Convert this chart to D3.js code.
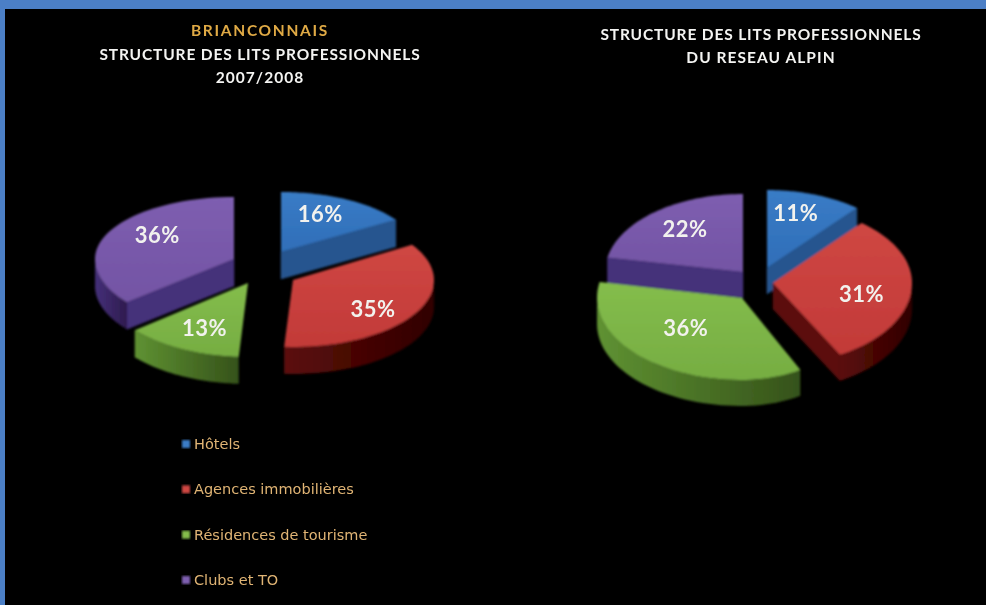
<!DOCTYPE html>
<html><head><meta charset="utf-8">
<script src="https://cdn.jsdelivr.net/npm/d3@7"></script>
<style>html,body{margin:0;padding:0;background:#000;overflow:hidden}svg{display:block}
text{font-family:Lato,"Open Sans",sans-serif}</style></head><body>
<svg id="c" width="986" height="605"></svg>
<script>
const categories = ["Hôtels","Agences immobilières","Résidences de tourisme","Clubs et TO"];
const briançonnaisValues = [16,35,13,36];
const reseauAlpinValues = [11,31,36,22];
const leftTitles = ["BRIANCONNAIS","STRUCTURE DES LITS PROFESSIONNELS","2007/2008"];
const rightTitles = ["STRUCTURE DES LITS PROFESSIONNELS","DU RESEAU ALPIN"];
const topColors  = ["#2f6eb8","#c23a38","#76ad42","#7354a4"];
const topLight   = ["#3a7cc6","#cf4743","#84bd4c","#7e5eb0"];
const wallColors = ["#26558f","#5c0c0a","#5f9232","#45307a"];
const wallDark   = ["#1d3f6e","#300000","#35521a","#2e1b4e"];

const svg = d3.select("#c");
const defs = svg.append("defs");
defs.append("filter").attr("id","soft").attr("x","-5%").attr("y","-5%").attr("width","110%").attr("height","110%")
  .append("feGaussianBlur").attr("stdDeviation",0.8);
defs.append("filter").attr("id","softText").attr("x","-5%").attr("y","-20%").attr("width","110%").attr("height","140%")
  .append("feGaussianBlur").attr("stdDeviation",0.55);
categories.forEach((c,i)=>{
  const t=defs.append("linearGradient").attr("id","top"+i).attr("x1",0).attr("y1",0).attr("x2",0).attr("y2",1);
  t.append("stop").attr("offset",0).attr("stop-color",topLight[i]);
  t.append("stop").attr("offset",1).attr("stop-color",topColors[i]);
  const w=defs.append("linearGradient").attr("id","wall"+i).attr("x1",0).attr("y1",0).attr("x2",1).attr("y2",0);
  w.append("stop").attr("offset",0).attr("stop-color",wallColors[i]);
  w.append("stop").attr("offset",1).attr("stop-color",wallDark[i]);
});

// frame
svg.append("rect").attr("width",986).attr("height",9).attr("fill","#4b7fc6");
svg.append("rect").attr("width",5).attr("height",605).attr("fill","#4b7fc6");

const pieGen = d3.pie().sort(null).value(d=>d).startAngle(0).endAngle(2*Math.PI);

const leftLayout = {
  rx:[136,141,147,139], rxRight:[136,141,147,139], ryTop:[60,66,62,62], ryBottom:[70,67,74,68], depth:27,
  apex:[[281,252],[293,280],[248,283],[234,259]],
  lab:[[.6,.73],[.66,.85],[.65,.68],[.61,.94]]
};
const rightLayout = {
  rx:[141,139,145,138], rxRight:[141,139,121,138], ryTop:[78,78,85,78], ryBottom:[78,82,82,78], depth:26,
  apex:[[767,268],[773,283],[742,298],[743,272]],
  lab:[[.6,.75],[.64,1.4],[.66,.45],[.66,.73]]
};

function drawPie(values, L){
  const g = svg.append("g").attr("filter","url(#soft)");
  const arcs = pieGen(values);
  const order = d3.range(values.length).sort((a,b)=>{
    const m=i=>(arcs[i].startAngle+arcs[i].endAngle)/2;
    return Math.cos(m(b))-Math.cos(m(a));
  });
  const line = d3.line();
  order.forEach(i=>{
    const a=arcs[i], [cx,cy]=L.apex[i];
    const px=t=>{const s=Math.sin(t);return cx+(s>0?L.rxRight[i]:L.rx[i])*s;};
    const py=t=>{const c=Math.cos(t);return cy-(c>0?L.ryTop[i]:L.ryBottom[i])*c;};
    const samp=(t0,t1)=>d3.range(0,1.0001,1/48).map(u=>{const t=t0+(t1-t0)*u;return [px(t),py(t)];});
    // radial cut faces
    [[a.startAngle,Math.sin(a.startAngle)<-0.1],[a.endAngle,Math.sin(a.endAngle)>0.1]].forEach(([t,vis])=>{
      if(!vis) return;
      const P=[[cx,cy],[px(t),py(t)],[px(t),py(t)+L.depth],[cx,cy+L.depth]];
      g.append("path").attr("d",line(P)+"Z").attr("fill",wallColors[i]).attr("stroke",wallColors[i]).attr("stroke-width",.5);
    });
    // outer wall: the portion in the lower half of the ellipse
    const w0=Math.max(a.startAngle,Math.PI/2), w1=Math.min(a.endAngle,1.5*Math.PI);
    if(w1>w0){
      const rim=samp(w0,w1);
      const P=rim.concat(rim.slice().reverse().map(p=>[p[0],p[1]+L.depth]));
      g.append("path").attr("d",line(P)+"Z").attr("fill",`url(#wall${i})`);
    }
    // top face
    const P=[[cx,cy]].concat(samp(a.startAngle,a.endAngle));
    g.append("path").attr("d",line(P)+"Z").attr("fill",`url(#top${i})`);
  });
  // value labels, on top of every slice
  arcs.forEach((a,i)=>{
    const [cx,cy]=L.apex[i];
    const mid=(a.startAngle+a.endAngle)/2, [kx,ky]=L.lab[i];
    const rxm=Math.sin(mid)>0?L.rxRight[i]:L.rx[i];
    const dy=Math.cos(mid)>0?L.ryTop[i]:L.ryBottom[i];
    svg.append("text").attr("x",cx+rxm*Math.sin(mid)*kx).attr("y",cy-dy*Math.cos(mid)*ky)
      .attr("text-anchor","middle").attr("dominant-baseline","central")
      .attr("font-size",22).attr("font-weight",700).attr("letter-spacing",.5).attr("fill","#f2f2ee").attr("filter","url(#softText)")
      .text(values[i]+"%");
  });
}
drawPie(briançonnaisValues,leftLayout);
drawPie(reseauAlpinValues,rightLayout);

// titles
function title(lines,spacing,cx,y0,step,firstGold){
  lines.forEach((s,i)=>svg.append("text").attr("x",cx).attr("y",y0+i*step).attr("text-anchor","middle")
    .attr("font-size",15.5).attr("font-weight",700).attr("letter-spacing",spacing[i])
    .attr("fill",firstGold&&i===0?"#e0aa45":"#f4f4f2").attr("filter","url(#softText)").text(s));
}
title(leftTitles,[1.7,.85,1.05],260,36,23.5,true);
title(rightTitles,[.85,1.05],761,40,23,false);

// legend
const legendY=d3.scalePoint().domain(categories).range([444,580]);
categories.forEach((c,i)=>{
  const y=legendY(c);
  svg.append("rect").attr("x",182).attr("y",y-4).attr("width",8).attr("height",8).attr("fill",topLight[i]).attr("filter","url(#soft)");
  svg.append("text").attr("x",194).attr("y",y+5).style("font-family","'DejaVu Sans'").attr("font-size",14.5)
    .attr("fill","#e0b474").attr("filter","url(#softText)").text(c);
});
</script></body></html>
